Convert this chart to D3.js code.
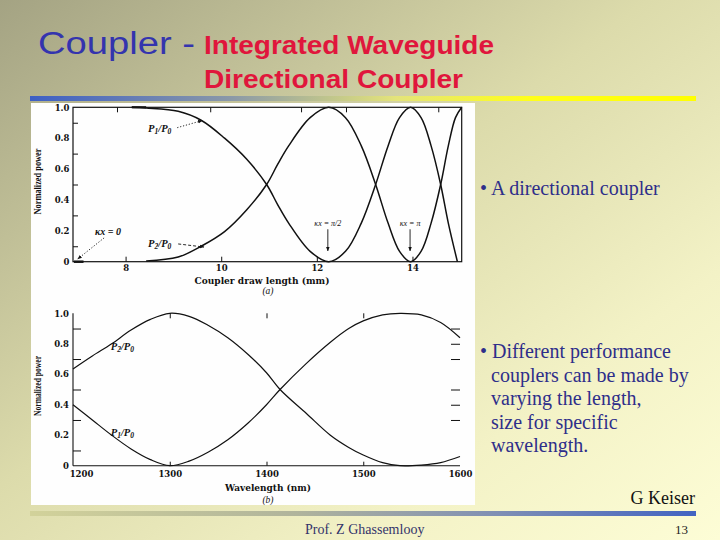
<!DOCTYPE html>
<html><head><meta charset="utf-8">
<script src="https://cdn.jsdelivr.net/npm/d3@7"></script>
<style>
html,body{margin:0;padding:0;overflow:hidden;background:#fff;}
svg{display:block;}
</style></head><body>
<script>
// ---------- data ----------
const lengthTicks = [8, 10, 12, 14];
const lengthTopTicks = [7.82, 9.77, 11.67, 12.61, 14.54];
const powerTicks = [0, 0.2, 0.4, 0.6, 0.8, 1.0];
const powerTickLabels = ["0", "0.2", "0.4", "0.6", "0.8", "1.0"];
const powerMinorTicks = [0.1, 0.3, 0.5, 0.7, 0.9];

const drawP1X = [8.13, 8.43, 9.10, 9.58, 10.07, 10.53, 10.95, 11.18, 11.41, 11.86, 12.25, 12.60, 12.93, 13.23, 13.49, 13.73, 13.96, 14.18, 14.39, 14.59, 14.75, 14.94];
const drawP1Y = [1.0, 0.995, 0.974, 0.916, 0.80, 0.665, 0.5, 0.37, 0.25, 0.067, 0, 0.067, 0.25, 0.5, 0.75, 0.933, 1.0, 0.933, 0.75, 0.5, 0.25, 0.0];
const drawP2X = [8.43, 9.10, 9.58, 10.07, 10.53, 10.95, 11.18, 11.41, 11.86, 12.25, 12.60, 12.93, 13.23, 13.49, 13.73, 13.96, 14.18, 14.39, 14.59, 14.75, 14.90, 15.03];
const drawP2Y = [0.005, 0.03, 0.10, 0.195, 0.335, 0.5, 0.63, 0.75, 0.933, 1.0, 0.933, 0.75, 0.5, 0.25, 0.067, 0, 0.067, 0.25, 0.5, 0.75, 0.933, 1.0];
const zeroKX = [6.92, 7.12];
const zeroKY = [0, 0];

const wlTicks = [1200, 1300, 1400, 1500, 1600];
const wlTopTicks = [1300, 1400, 1500];
const wlRightTicks = [0.9, 0.8, 0.7, 0.5, 0.4, 0.3];
const wlX = [1200, 1220, 1240, 1260, 1280, 1300, 1320, 1340, 1360, 1381, 1400, 1414, 1441, 1466, 1485, 1500, 1520, 1538, 1560, 1580, 1600];
const wlP1 = [0.40, 0.30, 0.20, 0.11, 0.04, 0.0, 0.03, 0.09, 0.17, 0.28, 0.40, 0.5, 0.67, 0.81, 0.90, 0.95, 0.99, 1.0, 0.99, 0.94, 0.84];
const wlP2 = [0.635, 0.72, 0.80, 0.89, 0.96, 1.0, 0.98, 0.92, 0.84, 0.73, 0.61, 0.50, 0.344, 0.20, 0.12, 0.07, 0.02, 0.0, 0.004, 0.02, 0.06];

const titleMain = "Coupler -";
const titleSub1 = "Integrated Waveguide";
const titleSub2 = "Directional Coupler";
const bullet1 = ["• A directional coupler"];
const bullet2 = ["• Different performance", "couplers can be made by", "varying the length,", "size for specific", "wavelength."];

// ---------- page ----------
const W = 720, H = 540;
const svg = d3.select("body").append("svg").attr("width", W).attr("height", H);
const defs = svg.append("defs");

const bg = defs.append("linearGradient").attr("id", "bg").attr("x1", "0").attr("y1", "0").attr("x2", "1").attr("y2", "1");
bg.append("stop").attr("offset", "0").attr("stop-color", "#a4a383");
bg.append("stop").attr("offset", "0.45").attr("stop-color", "#dcdbab");
bg.append("stop").attr("offset", "0.75").attr("stop-color", "#f3f2c6");
bg.append("stop").attr("offset", "1").attr("stop-color", "#fdfdd6");
svg.append("rect").attr("width", W).attr("height", H).attr("fill", "url(#bg)");

const barTop = defs.append("linearGradient").attr("id", "barTop");
barTop.append("stop").attr("offset", "0").attr("stop-color", "#3d5fc4");
barTop.append("stop").attr("offset", "0.3").attr("stop-color", "#8a98a8");
barTop.append("stop").attr("offset", "0.55").attr("stop-color", "#e4e47a");
barTop.append("stop").attr("offset", "0.75").attr("stop-color", "#ffff1a");
barTop.append("stop").attr("offset", "1").attr("stop-color", "#ffff00");
svg.append("rect").attr("x", 30).attr("y", 96).attr("width", 666).attr("height", 5).attr("fill", "url(#barTop)");

const barBot = defs.append("linearGradient").attr("id", "barBot");
barBot.append("stop").attr("offset", "0").attr("stop-color", "#d2d29a");
barBot.append("stop").attr("offset", "0.4").attr("stop-color", "#b0b49c");
barBot.append("stop").attr("offset", "0.7").attr("stop-color", "#7f8fb4");
barBot.append("stop").attr("offset", "1").attr("stop-color", "#4264c2");
svg.append("rect").attr("x", 30).attr("y", 511).attr("width", 666).attr("height", 5).attr("fill", "url(#barBot)");

// title
svg.append("text").attr("x", 38).attr("y", 54).attr("font-family", "Liberation Sans, Arial, sans-serif")
  .attr("font-size", 31).attr("fill", "#3434ae").attr("textLength", 157).attr("lengthAdjust", "spacingAndGlyphs").text(titleMain);
svg.append("text").attr("x", 204).attr("y", 54).attr("font-family", "Liberation Sans, Arial, sans-serif")
  .attr("font-size", 25).attr("font-weight", "bold").attr("fill", "#e0163c").attr("textLength", 290).attr("lengthAdjust", "spacingAndGlyphs").text(titleSub1);
svg.append("text").attr("x", 204).attr("y", 88).attr("font-family", "Liberation Sans, Arial, sans-serif")
  .attr("font-size", 25).attr("font-weight", "bold").attr("fill", "#e0163c").attr("textLength", 259).attr("lengthAdjust", "spacingAndGlyphs").text(titleSub2);

// white panel
svg.append("rect").attr("x", 31).attr("y", 103).attr("width", 444).attr("height", 402).attr("fill", "#fefefe");

// right text
const bodyFont = "Liberation Serif, Times New Roman, serif";
svg.append("text").attr("x", 480).attr("y", 195).attr("font-family", bodyFont).attr("font-size", 20).attr("fill", "#2e2e8a").text(bullet1[0]);
bullet2.forEach((t, i) => {
  svg.append("text").attr("x", i === 0 ? 480 : 491).attr("y", 358 + i * 23.5)
    .attr("font-family", bodyFont).attr("font-size", 20).attr("fill", "#2e2e8a").text(t);
});
svg.append("text").attr("x", 695).attr("y", 504).attr("text-anchor", "end").attr("font-family", bodyFont).attr("font-size", 18).attr("fill", "#111").text("G Keiser");
svg.append("text").attr("x", 305).attr("y", 534).attr("font-family", bodyFont).attr("font-size", 14).attr("fill", "#33336a").text("Prof. Z Ghassemlooy");
svg.append("text").attr("x", 688).attr("y", 534).attr("text-anchor", "end").attr("font-family", bodyFont).attr("font-size", 13).attr("fill", "#222").text("13");

// markers
defs.append("marker").attr("id", "ah").attr("viewBox", "0 0 10 10").attr("refX", 9).attr("refY", 5)
  .attr("markerWidth", 5).attr("markerHeight", 5).attr("orient", "auto")
  .append("path").attr("d", "M0,1 L10,5 L0,9 Z").attr("fill", "#111");

const chartFont = "Liberation Serif, Times New Roman, serif";
const tickFont = "DejaVu Serif, Liberation Serif, serif";

function pLabel(g, x, y, n) {
  const t = g.append("text").attr("x", x).attr("y", y).attr("font-family", chartFont).attr("font-size", 10.5)
    .attr("font-style", "italic").attr("font-weight", "bold").attr("fill", "#111");
  t.append("tspan").text("P");
  t.append("tspan").attr("font-size", 7.5).attr("dy", 2).text(n);
  t.append("tspan").attr("dy", -2).text("/P");
  t.append("tspan").attr("font-size", 7.5).attr("dy", 2).text("0");
}

function styleAxis(g, fs) {
  g.selectAll("text").attr("font-family", tickFont).attr("font-size", fs).attr("font-weight", "bold").attr("fill", "#111");
  g.selectAll("line").attr("stroke", "#111");
  g.select(".domain").remove();
}

// ---------- top chart ----------
const xT = d3.scaleLinear().domain([6.9, 15.03]).range([73, 461.7]);
const yT = d3.scaleLinear().domain([0, 1]).range([261.7, 107.3]);
const gT = svg.append("g");
gT.append("rect").attr("x", xT(6.9)).attr("y", yT(1)).attr("width", xT(15.03) - xT(6.9)).attr("height", yT(0) - yT(1))
  .attr("fill", "none").attr("stroke", "#111").attr("stroke-width", 1.2);

const axBT = gT.append("g").attr("transform", `translate(0,${yT(0)})`)
  .call(d3.axisBottom(xT).tickValues(lengthTicks).tickSize(-5).tickPadding(3).tickFormat(d3.format("d")));
styleAxis(axBT, 8.5);
const axTT = gT.append("g").attr("transform", `translate(0,${yT(1)})`)
  .call(d3.axisTop(xT).tickValues(lengthTopTicks).tickSize(-5).tickFormat(""));
styleAxis(axTT, 8);
const axLT = gT.append("g").attr("transform", `translate(${xT(6.9)},0)`)
  .call(d3.axisLeft(yT).tickValues(powerTicks).tickSize(0).tickPadding(3.5).tickFormat((d, i) => powerTickLabels[i]));
styleAxis(axLT, 8.5);
const axLTm = gT.append("g").attr("transform", `translate(${xT(6.9)},0)`)
  .call(d3.axisLeft(yT).tickValues(powerMinorTicks).tickSize(-5).tickFormat(""));
styleAxis(axLTm, 8);

const lineT = d3.line().x(d => xT(d[0])).y(d => yT(d[1])).curve(d3.curveCatmullRom.alpha(0.5));
gT.append("path").attr("d", lineT(d3.zip(drawP1X, drawP1Y))).attr("fill", "none").attr("stroke", "#111").attr("stroke-width", 1.5);
gT.append("path").attr("d", lineT(d3.zip(drawP2X, drawP2Y))).attr("fill", "none").attr("stroke", "#111").attr("stroke-width", 1.5);
gT.append("path").attr("d", lineT(d3.zip(zeroKX, zeroKY))).attr("fill", "none").attr("stroke", "#111").attr("stroke-width", 2.5);
gT.append("path").attr("d", lineT([[8.13, 1.0], [8.43, 1.0]])).attr("fill", "none").attr("stroke", "#111").attr("stroke-width", 2.2);

gT.append("text").attr("x", 37).attr("y", (yT(0) + yT(1)) / 2 - 3).attr("transform", `rotate(-90,37,${(yT(0) + yT(1)) / 2 - 3})`)
  .attr("text-anchor", "middle").attr("dy", "0.35em").attr("font-family", chartFont).attr("font-size", 10.5).attr("font-weight", "bold")
  .attr("textLength", 66).attr("lengthAdjust", "spacingAndGlyphs").attr("fill", "#111").text("Normalized power");
gT.append("text").attr("x", 262).attr("y", 284).attr("text-anchor", "middle").attr("font-family", tickFont).attr("font-size", 9)
  .attr("font-weight", "bold").attr("textLength", 135).attr("lengthAdjust", "spacingAndGlyphs").attr("fill", "#111").text("Coupler draw length (mm)");
gT.append("text").attr("x", 268).attr("y", 294).attr("text-anchor", "middle").attr("font-family", chartFont).attr("font-size", 9.5)
  .attr("font-style", "italic").attr("fill", "#111").text("(a)");

pLabel(gT, xT(8.47), yT(0.84), "1");
pLabel(gT, xT(8.47), yT(0.096), "2");
function arrow(g, x1, y1, x2, y2, dash) {
  g.append("line").attr("x1", x1).attr("y1", y1).attr("x2", x2).attr("y2", y2).attr("stroke", "#111")
    .attr("stroke-width", 0.9).attr("stroke-dasharray", dash).attr("marker-end", "url(#ah)");
}
arrow(gT, xT(9.08), yT(0.868), xT(9.60), yT(0.914), "1.2,1.8");
arrow(gT, xT(9.10), yT(0.115), xT(9.64), yT(0.095), "3,2");
arrow(gT, xT(7.55), yT(0.154), xT(7.0), yT(0.018), "1.2,1.8");
arrow(gT, xT(12.23), yT(0.21), xT(12.23), yT(0.07), null);
arrow(gT, xT(13.95), yT(0.21), xT(13.95), yT(0.07), null);
const kFont = (g, x, y, t) => g.append("text").attr("x", x).attr("y", y).attr("text-anchor", "middle")
  .attr("font-family", chartFont).attr("font-size", 8).attr("font-style", "italic").attr("fill", "#111").text(t);
kFont(gT, xT(7.63), yT(0.17), "κx = 0").attr("font-size", 10).attr("font-weight", "bold");
kFont(gT, xT(12.23), yT(0.232), "κx = π/2");
kFont(gT, xT(13.95), yT(0.232), "κx = π");

// ---------- bottom chart ----------
const xB = d3.scaleLinear().domain([1200, 1600]).range([73, 460]);
const yB = d3.scaleLinear().domain([0, 1]).range([465.7, 313.3]);
const gB = svg.append("g");
gB.append("line").attr("x1", xB(1200)).attr("x2", xB(1200)).attr("y1", yB(0)).attr("y2", yB(1)).attr("stroke", "#111").attr("stroke-width", 1.1);
gB.append("line").attr("x1", xB(1200)).attr("x2", xB(1600)).attr("y1", yB(0)).attr("y2", yB(0)).attr("stroke", "#111").attr("stroke-width", 1.1);

const axBB = gB.append("g").attr("transform", `translate(0,${yB(0)})`)
  .call(d3.axisBottom(xB).tickValues(wlTicks).tickSize(-4).tickPadding(5).tickFormat(d3.format("d")));
styleAxis(axBB, 8.5);
axBB.selectAll(".tick").filter(d => d === 1200 || d === 1600).select("line").remove();
axBB.selectAll(".tick").filter(d => d === 1200).select("text").attr("dx", 8);
const axTB = gB.append("g").attr("transform", `translate(0,${yB(1)})`)
  .call(d3.axisTop(xB).tickValues(wlTopTicks).tickSize(-5).tickFormat(""));
styleAxis(axTB, 8);
const axLB = gB.append("g").attr("transform", `translate(${xB(1200)},0)`)
  .call(d3.axisLeft(yB).tickValues(powerTicks).tickSize(0).tickPadding(4).tickFormat((d, i) => powerTickLabels[i]));
styleAxis(axLB, 8.5);
const axLBm = gB.append("g").attr("transform", `translate(${xB(1200)},0)`)
  .call(d3.axisLeft(yB).tickValues(powerMinorTicks).tickSize(-8).tickFormat(""));
styleAxis(axLBm, 8);
const axRB = gB.append("g").attr("transform", `translate(${xB(1600)},0)`)
  .call(d3.axisRight(yB).tickValues(wlRightTicks).tickSize(-9).tickFormat(""));
styleAxis(axRB, 8);

const lineB = d3.line().x(d => xB(d[0])).y(d => yB(d[1])).curve(d3.curveCatmullRom.alpha(0.5));
gB.append("path").attr("d", lineB(d3.zip(wlX, wlP1))).attr("fill", "none").attr("stroke", "#111").attr("stroke-width", 1.2);
gB.append("path").attr("d", lineB(d3.zip(wlX, wlP2))).attr("fill", "none").attr("stroke", "#111").attr("stroke-width", 1.2);

gB.append("text").attr("x", 37).attr("y", 386).attr("transform", "rotate(-90,37,386)")
  .attr("text-anchor", "middle").attr("dy", "0.35em").attr("font-family", chartFont).attr("font-size", 10.5).attr("font-weight", "bold")
  .attr("textLength", 60).attr("lengthAdjust", "spacingAndGlyphs").attr("fill", "#111").text("Normalized power");
gB.append("text").attr("x", 268).attr("y", 491).attr("text-anchor", "middle").attr("font-family", tickFont).attr("font-size", 9)
  .attr("font-weight", "bold").attr("textLength", 86).attr("lengthAdjust", "spacingAndGlyphs").attr("fill", "#111").text("Wavelength (nm)");
gB.append("text").attr("x", 268).attr("y", 503).attr("text-anchor", "middle").attr("font-family", chartFont).attr("font-size", 9.5)
  .attr("font-style", "italic").attr("fill", "#111").text("(b)");
pLabel(gB, xB(1239), yB(0.76), "2");
pLabel(gB, xB(1239), yB(0.195), "1");
</script>
</body></html>
